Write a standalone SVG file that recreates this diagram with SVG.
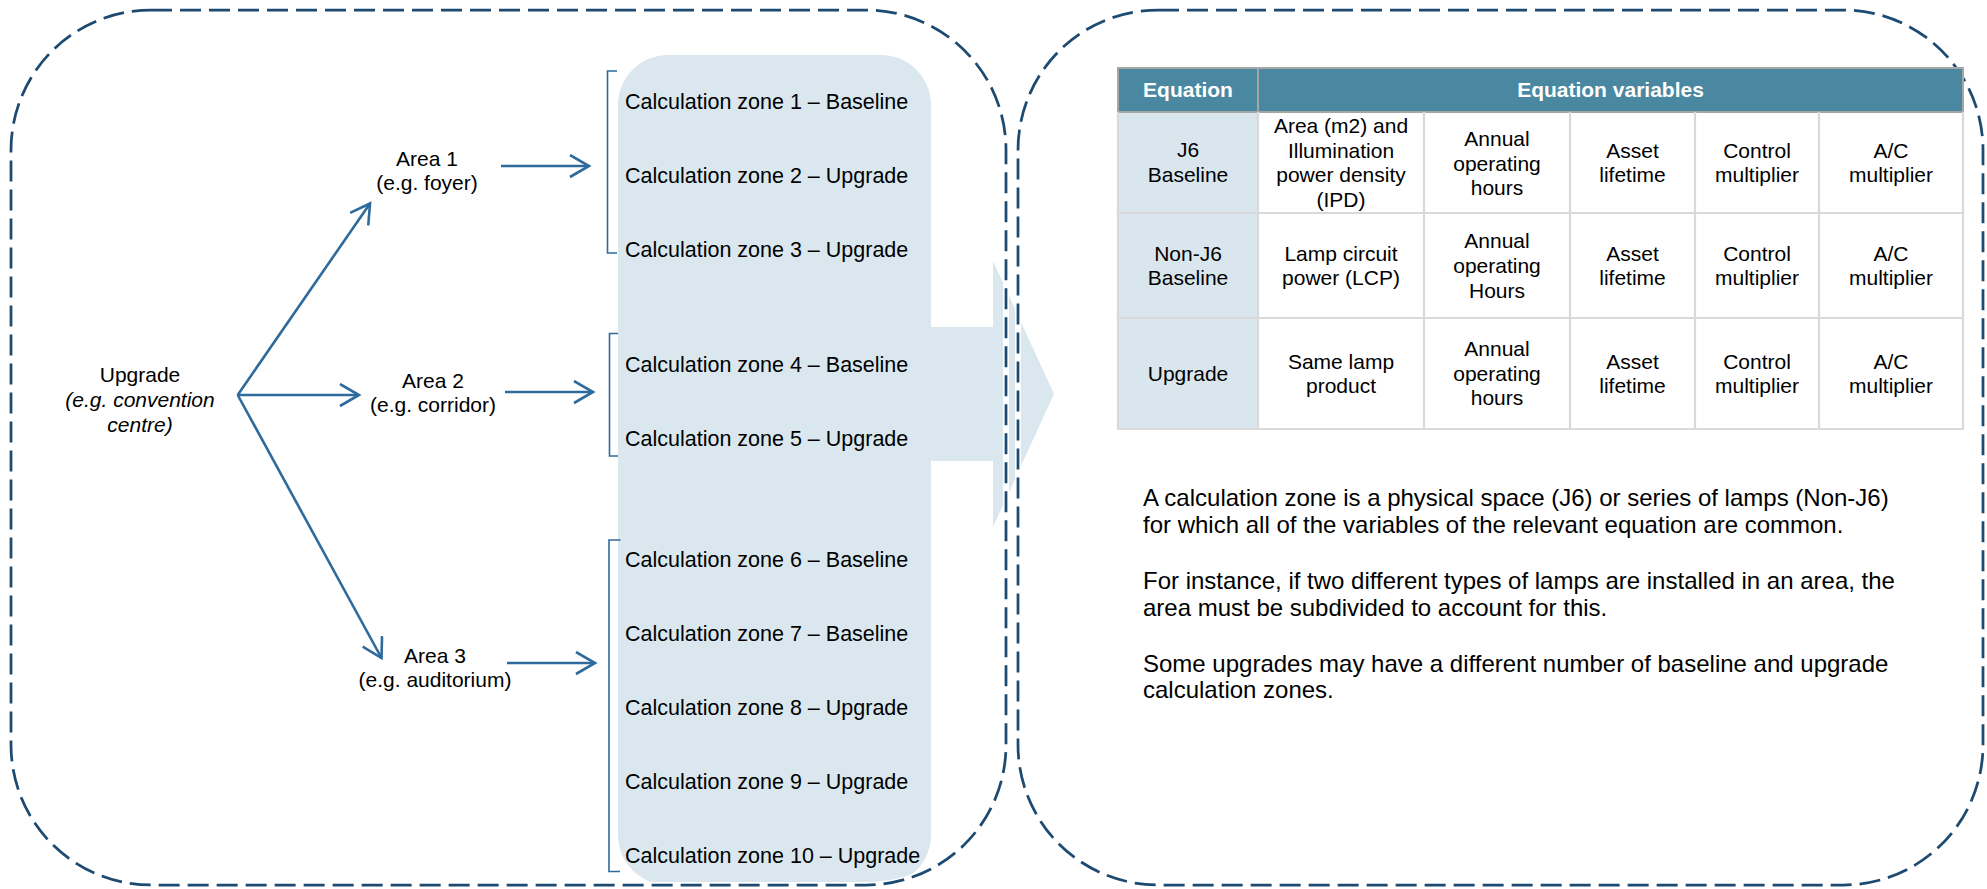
<svg xmlns="http://www.w3.org/2000/svg" width="1987" height="889" viewBox="0 0 1987 889">
<defs>
<style>
text{font-family:"Liberation Sans",Arial,Helvetica,sans-serif;fill:#000}
.lbl{font-size:21px;text-anchor:middle}
.it{font-style:italic}
.zone{font-size:21.5px}
.cell{font-size:21px;text-anchor:middle}
.hdr{font-size:21px;font-weight:bold;fill:#fff;text-anchor:middle}
.para{font-size:24px}
.halo{fill:none;stroke:#fff;stroke-width:6}
.dash{fill:none;stroke:#1d4a70;stroke-width:2.75;stroke-dasharray:21 8}
.conn{fill:none;stroke:#2e6a9b;stroke-width:2.6}
.brk{fill:none;stroke:#2e6a9b;stroke-width:1.6}
.pale{fill:#dae7ef}
.grid{stroke:#d9d9d9;stroke-width:2.2;fill:none}
</style>
<marker id="ah" markerUnits="userSpaceOnUse" markerWidth="24" markerHeight="26" refX="20" refY="12" orient="auto">
<path d="M1,1 L20,12 L1,23" fill="none" stroke="#2e6a9b" stroke-width="2.6"/>
</marker>
</defs>
<rect width="1987" height="889" fill="#fff"/>

<g id="zones-panel">
<rect class="pale" x="618" y="55" width="313" height="830" rx="50"/>
<polygon id="big-arrow" class="pale" points="925,327 993,327 993,261 1054,394 993,527 993,461 925,461"/>
</g>

<g id="frame-left">
<rect class="halo" x="11" y="10" width="995" height="875" rx="140"/>
<rect class="dash" x="11" y="10" width="995" height="875" rx="140"/>
</g>
<g id="frame-right">
<rect class="halo" x="1018" y="10" width="965" height="875" rx="140"/>
<rect class="dash" x="1018" y="10" width="965" height="875" rx="140"/>
</g>

<g id="connectors">
<line class="conn" x1="237.7" y1="395" x2="370" y2="203.5" marker-end="url(#ah)"/>
<line class="conn" x1="237.7" y1="395" x2="359" y2="395" marker-end="url(#ah)"/>
<line class="conn" x1="237.7" y1="395" x2="381.5" y2="658" marker-end="url(#ah)"/>
<line class="conn" x1="501" y1="166" x2="589" y2="166" marker-end="url(#ah)"/>
<line class="conn" x1="505" y1="392" x2="593" y2="392" marker-end="url(#ah)"/>
<line class="conn" x1="507" y1="663" x2="595" y2="663" marker-end="url(#ah)"/>
</g>

<g id="brackets">
<path class="brk" d="M617,71 H607.5 V253 H617"/>
<path class="brk" d="M618,333.5 H609.5 V456 H618"/>
<path class="brk" d="M620.5,540 H609 V871.5 H620"/>
</g>

<g id="node-upgrade">
<text class="lbl" x="140" y="382">Upgrade</text>
<text class="lbl it" x="140" y="407">(e.g. convention</text>
<text class="lbl it" x="140" y="432">centre)</text>
</g>
<g id="node-area1">
<text class="lbl" x="427" y="166">Area 1</text>
<text class="lbl" x="427" y="190">(e.g. foyer)</text>
</g>
<g id="node-area2">
<text class="lbl" x="433" y="388">Area 2</text>
<text class="lbl" x="433" y="412">(e.g. corridor)</text>
</g>
<g id="node-area3">
<text class="lbl" x="435" y="663">Area 3</text>
<text class="lbl" x="435" y="687">(e.g. auditorium)</text>
</g>

<g id="zone-list">
<text class="zone" x="625" y="109">Calculation zone 1 – Baseline</text>
<text class="zone" x="625" y="183">Calculation zone 2 – Upgrade</text>
<text class="zone" x="625" y="257">Calculation zone 3 – Upgrade</text>
<text class="zone" x="625" y="372">Calculation zone 4 – Baseline</text>
<text class="zone" x="625" y="446">Calculation zone 5 – Upgrade</text>
<text class="zone" x="625" y="567">Calculation zone 6 – Baseline</text>
<text class="zone" x="625" y="641">Calculation zone 7 – Baseline</text>
<text class="zone" x="625" y="715">Calculation zone 8 – Upgrade</text>
<text class="zone" x="625" y="789">Calculation zone 9 – Upgrade</text>
<text class="zone" x="625" y="863">Calculation zone 10 – Upgrade</text>
</g>

<g id="table">
<rect x="1118" y="112" width="140" height="317" fill="#dae6ee"/>
<rect x="1258" y="112" width="705" height="317" fill="#fff"/>
<rect x="1118" y="68" width="845" height="44" fill="#4a87a0" stroke="#a6a6a6" stroke-width="2"/>
<line x1="1258" y1="68" x2="1258" y2="112" stroke="#a6a6a6" stroke-width="2"/>
<path class="grid" d="M1118,112 V429 H1963 V112 M1118,213 H1963 M1118,318 H1963 M1258,112 V429 M1424,112 V429 M1570,112 V429 M1695,112 V429 M1819,112 V429"/>
<text class="hdr" x="1188" y="97">Equation</text>
<text class="hdr" x="1610.5" y="97">Equation variables</text>

<text class="cell" x="1188" y="157">J6</text>
<text class="cell" x="1188" y="182">Baseline</text>
<text class="cell" x="1341" y="133">Area (m2) and</text>
<text class="cell" x="1341" y="158">Illumination</text>
<text class="cell" x="1341" y="182">power density</text>
<text class="cell" x="1341" y="206.5">(IPD)</text>
<text class="cell" x="1497" y="145.5">Annual</text>
<text class="cell" x="1497" y="170.5">operating</text>
<text class="cell" x="1497" y="195">hours</text>
<text class="cell" x="1632.5" y="158">Asset</text>
<text class="cell" x="1632.5" y="182">lifetime</text>
<text class="cell" x="1757" y="158">Control</text>
<text class="cell" x="1757" y="182">multiplier</text>
<text class="cell" x="1891" y="158">A/C</text>
<text class="cell" x="1891" y="182">multiplier</text>

<text class="cell" x="1188" y="260.5">Non-J6</text>
<text class="cell" x="1188" y="285">Baseline</text>
<text class="cell" x="1341" y="260.5">Lamp circuit</text>
<text class="cell" x="1341" y="285">power (LCP)</text>
<text class="cell" x="1497" y="248">Annual</text>
<text class="cell" x="1497" y="273">operating</text>
<text class="cell" x="1497" y="298">Hours</text>
<text class="cell" x="1632.5" y="260.5">Asset</text>
<text class="cell" x="1632.5" y="285">lifetime</text>
<text class="cell" x="1757" y="260.5">Control</text>
<text class="cell" x="1757" y="285">multiplier</text>
<text class="cell" x="1891" y="260.5">A/C</text>
<text class="cell" x="1891" y="285">multiplier</text>

<text class="cell" x="1188" y="381">Upgrade</text>
<text class="cell" x="1341" y="369">Same lamp</text>
<text class="cell" x="1341" y="393">product</text>
<text class="cell" x="1497" y="356">Annual</text>
<text class="cell" x="1497" y="381">operating</text>
<text class="cell" x="1497" y="405">hours</text>
<text class="cell" x="1632.5" y="369">Asset</text>
<text class="cell" x="1632.5" y="393">lifetime</text>
<text class="cell" x="1757" y="369">Control</text>
<text class="cell" x="1757" y="393">multiplier</text>
<text class="cell" x="1891" y="369">A/C</text>
<text class="cell" x="1891" y="393">multiplier</text>
</g>

<g id="notes">
<text class="para" x="1143" y="506">A calculation zone is a physical space (J6) or series of lamps (Non-J6)</text>
<text class="para" x="1143" y="533">for which all of the variables of the relevant equation are common.</text>
<text class="para" x="1143" y="589">For instance, if two different types of lamps are installed in an area, the</text>
<text class="para" x="1143" y="616">area must be subdivided to account for this.</text>
<text class="para" x="1143" y="672">Some upgrades may have a different number of baseline and upgrade</text>
<text class="para" x="1143" y="698">calculation zones.</text>
</g>
</svg>
